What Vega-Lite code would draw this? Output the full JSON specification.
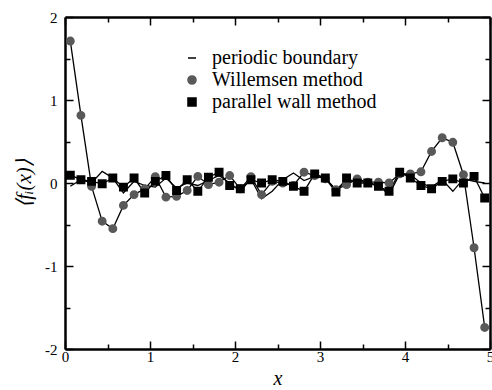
{
  "$schema": "https://vega.github.io/schema/vega-lite/v6.json",
  "width": 425,
  "height": 332,
  "autosize": "none",
  "padding": {"left": 65, "top": 17, "right": 2, "bottom": 41},
  "background": "white",
  "config": {
    "view": {"stroke": null},
    "axis": {
      "grid": false,
      "domainColor": "black",
      "domainWidth": 2.5,
      "tickColor": "black",
      "tickWidth": 1.5,
      "labelFont": "Liberation Serif",
      "labelFontSize": 15,
      "labelColor": "black",
      "titleFont": "Liberation Serif",
      "titleFontWeight": "normal",
      "titleColor": "black"
    }
  },
  "datasets": {
    "pts": [
      {"x": 0.0625, "y": 1.71, "series": "Willemsen method"},
      {"x": 0.1875, "y": 0.815, "series": "Willemsen method"},
      {"x": 0.3125, "y": -0.04, "series": "Willemsen method"},
      {"x": 0.4375, "y": -0.46, "series": "Willemsen method"},
      {"x": 0.5625, "y": -0.55, "series": "Willemsen method"},
      {"x": 0.6875, "y": -0.27, "series": "Willemsen method"},
      {"x": 0.8125, "y": -0.14, "series": "Willemsen method"},
      {"x": 0.9375, "y": -0.07, "series": "Willemsen method"},
      {"x": 1.0625, "y": 0.075, "series": "Willemsen method"},
      {"x": 1.1875, "y": -0.17, "series": "Willemsen method"},
      {"x": 1.3125, "y": -0.16, "series": "Willemsen method"},
      {"x": 1.4375, "y": -0.09, "series": "Willemsen method"},
      {"x": 1.5625, "y": 0.08, "series": "Willemsen method"},
      {"x": 1.6875, "y": -0.02, "series": "Willemsen method"},
      {"x": 1.8125, "y": 0.01, "series": "Willemsen method"},
      {"x": 1.9375, "y": 0.09, "series": "Willemsen method"},
      {"x": 2.0625, "y": -0.07, "series": "Willemsen method"},
      {"x": 2.1875, "y": 0.075, "series": "Willemsen method"},
      {"x": 2.3125, "y": -0.14, "series": "Willemsen method"},
      {"x": 2.4375, "y": 0.02, "series": "Willemsen method"},
      {"x": 2.5625, "y": 0.0, "series": "Willemsen method"},
      {"x": 2.6875, "y": -0.03, "series": "Willemsen method"},
      {"x": 2.8125, "y": 0.13, "series": "Willemsen method"},
      {"x": 2.9375, "y": 0.09, "series": "Willemsen method"},
      {"x": 3.0625, "y": 0.05, "series": "Willemsen method"},
      {"x": 3.1875, "y": -0.08, "series": "Willemsen method"},
      {"x": 3.3125, "y": -0.02, "series": "Willemsen method"},
      {"x": 3.4375, "y": 0.05, "series": "Willemsen method"},
      {"x": 3.5625, "y": 0.01, "series": "Willemsen method"},
      {"x": 3.6875, "y": 0.01, "series": "Willemsen method"},
      {"x": 3.8125, "y": 0.0, "series": "Willemsen method"},
      {"x": 3.9375, "y": 0.11, "series": "Willemsen method"},
      {"x": 4.0625, "y": 0.11, "series": "Willemsen method"},
      {"x": 4.1875, "y": 0.135, "series": "Willemsen method"},
      {"x": 4.3125, "y": 0.38, "series": "Willemsen method"},
      {"x": 4.4375, "y": 0.545, "series": "Willemsen method"},
      {"x": 4.5625, "y": 0.49, "series": "Willemsen method"},
      {"x": 4.6875, "y": 0.1, "series": "Willemsen method"},
      {"x": 4.8125, "y": -0.78, "series": "Willemsen method"},
      {"x": 4.9375, "y": -1.74, "series": "Willemsen method"},

      {"x": 0.0625, "y": 0.094, "series": "parallel wall method"},
      {"x": 0.1875, "y": 0.04, "series": "parallel wall method"},
      {"x": 0.3125, "y": 0.02, "series": "parallel wall method"},
      {"x": 0.4375, "y": -0.01, "series": "parallel wall method"},
      {"x": 0.5625, "y": 0.06, "series": "parallel wall method"},
      {"x": 0.6875, "y": -0.05, "series": "parallel wall method"},
      {"x": 0.8125, "y": 0.06, "series": "parallel wall method"},
      {"x": 0.9375, "y": -0.12, "series": "parallel wall method"},
      {"x": 1.0625, "y": 0.02, "series": "parallel wall method"},
      {"x": 1.1875, "y": 0.09, "series": "parallel wall method"},
      {"x": 1.3125, "y": -0.09, "series": "parallel wall method"},
      {"x": 1.4375, "y": 0.04, "series": "parallel wall method"},
      {"x": 1.5625, "y": -0.1, "series": "parallel wall method"},
      {"x": 1.6875, "y": 0.07, "series": "parallel wall method"},
      {"x": 1.8125, "y": 0.13, "series": "parallel wall method"},
      {"x": 1.9375, "y": -0.03, "series": "parallel wall method"},
      {"x": 2.0625, "y": -0.07, "series": "parallel wall method"},
      {"x": 2.1875, "y": 0.04, "series": "parallel wall method"},
      {"x": 2.3125, "y": 0.0, "series": "parallel wall method"},
      {"x": 2.4375, "y": 0.04, "series": "parallel wall method"},
      {"x": 2.5625, "y": 0.02, "series": "parallel wall method"},
      {"x": 2.6875, "y": -0.04, "series": "parallel wall method"},
      {"x": 2.8125, "y": -0.1, "series": "parallel wall method"},
      {"x": 2.9375, "y": 0.11, "series": "parallel wall method"},
      {"x": 3.0625, "y": 0.06, "series": "parallel wall method"},
      {"x": 3.1875, "y": -0.11, "series": "parallel wall method"},
      {"x": 3.3125, "y": 0.06, "series": "parallel wall method"},
      {"x": 3.4375, "y": 0.0, "series": "parallel wall method"},
      {"x": 3.5625, "y": 0.0, "series": "parallel wall method"},
      {"x": 3.6875, "y": -0.04, "series": "parallel wall method"},
      {"x": 3.8125, "y": -0.1, "series": "parallel wall method"},
      {"x": 3.9375, "y": 0.13, "series": "parallel wall method"},
      {"x": 4.0625, "y": 0.06, "series": "parallel wall method"},
      {"x": 4.1875, "y": -0.03, "series": "parallel wall method"},
      {"x": 4.3125, "y": -0.07, "series": "parallel wall method"},
      {"x": 4.4375, "y": 0.02, "series": "parallel wall method"},
      {"x": 4.5625, "y": 0.05, "series": "parallel wall method"},
      {"x": 4.6875, "y": 0.0, "series": "parallel wall method"},
      {"x": 4.8125, "y": 0.08, "series": "parallel wall method"},
      {"x": 4.9375, "y": -0.18, "series": "parallel wall method"},

      {"x": 0.0625, "y": -0.04, "series": "periodic boundary"},
      {"x": 0.1875, "y": 0.04, "series": "periodic boundary"},
      {"x": 0.3125, "y": 0.0, "series": "periodic boundary"},
      {"x": 0.4375, "y": 0.14, "series": "periodic boundary"},
      {"x": 0.5625, "y": 0.06, "series": "periodic boundary"},
      {"x": 0.6875, "y": -0.12, "series": "periodic boundary"},
      {"x": 0.8125, "y": 0.02, "series": "periodic boundary"},
      {"x": 0.9375, "y": -0.03, "series": "periodic boundary"},
      {"x": 1.0625, "y": -0.05, "series": "periodic boundary"},
      {"x": 1.1875, "y": 0.06, "series": "periodic boundary"},
      {"x": 1.3125, "y": -0.06, "series": "periodic boundary"},
      {"x": 1.4375, "y": 0.0, "series": "periodic boundary"},
      {"x": 1.5625, "y": -0.03, "series": "periodic boundary"},
      {"x": 1.6875, "y": 0.03, "series": "periodic boundary"},
      {"x": 1.8125, "y": 0.09, "series": "periodic boundary"},
      {"x": 1.9375, "y": 0.0, "series": "periodic boundary"},
      {"x": 2.0625, "y": -0.1, "series": "periodic boundary"},
      {"x": 2.1875, "y": 0.05, "series": "periodic boundary"},
      {"x": 2.3125, "y": -0.19, "series": "periodic boundary"},
      {"x": 2.4375, "y": -0.1, "series": "periodic boundary"},
      {"x": 2.5625, "y": 0.04, "series": "periodic boundary"},
      {"x": 2.6875, "y": 0.12, "series": "periodic boundary"},
      {"x": 2.8125, "y": 0.03, "series": "periodic boundary"},
      {"x": 2.9375, "y": 0.08, "series": "periodic boundary"},
      {"x": 3.0625, "y": 0.06, "series": "periodic boundary"},
      {"x": 3.1875, "y": -0.08, "series": "periodic boundary"},
      {"x": 3.3125, "y": 0.03, "series": "periodic boundary"},
      {"x": 3.4375, "y": 0.02, "series": "periodic boundary"},
      {"x": 3.5625, "y": 0.01, "series": "periodic boundary"},
      {"x": 3.6875, "y": -0.03, "series": "periodic boundary"},
      {"x": 3.8125, "y": -0.14, "series": "periodic boundary"},
      {"x": 3.9375, "y": 0.11, "series": "periodic boundary"},
      {"x": 4.0625, "y": 0.1, "series": "periodic boundary"},
      {"x": 4.1875, "y": 0.0, "series": "periodic boundary"},
      {"x": 4.3125, "y": -0.05, "series": "periodic boundary"},
      {"x": 4.4375, "y": 0.04, "series": "periodic boundary"},
      {"x": 4.5625, "y": -0.1, "series": "periodic boundary"},
      {"x": 4.6875, "y": 0.05, "series": "periodic boundary"},
      {"x": 4.8125, "y": 0.02, "series": "periodic boundary"},
      {"x": 4.9375, "y": 0.0, "series": "periodic boundary"}
    ]
  },
  "data": {"name": "pts"},
  "layer": [
    {
      "mark": {"type": "line", "color": "black", "strokeWidth": 1.3, "clip": true},
      "encoding": {
        "x": {
          "field": "x", "type": "quantitative",
          "scale": {"domain": [0, 5], "nice": false, "zero": false},
          "axis": {
            "orient": "bottom",
            "values": [0, 0.5, 1, 1.5, 2, 2.5, 3, 3.5, 4, 4.5, 5],
            "labelExpr": "datum.value % 1 === 0 ? datum.value : ''",
            "tickSize": {"condition": {"test": "datum.value % 1 === 0", "value": -8}, "value": -5},
            "labelFont": "Liberation Serif",
            "labelFontSize": 15,
            "labelPadding": 8,
            "labelFlush": false,
            "labelOverlap": false,
            "title": "x",
            "titleFontSize": 20,
            "titleFontStyle": "italic",
            "titlePadding": 1
          }
        },
        "y": {
          "field": "y", "type": "quantitative",
          "scale": {"domain": [-2, 2], "nice": false, "zero": false},
          "axis": {
            "orient": "left",
            "values": [-2, -1.5, -1, -0.5, 0, 0.5, 1, 1.5, 2],
            "labelExpr": "datum.value % 1 === 0 ? datum.value : ''",
            "tickSize": {"condition": {"test": "datum.value % 1 === 0", "value": -8}, "value": -5},
            "labelFont": "Liberation Serif",
            "labelFontSize": 15,
            "labelPadding": 16,
            "labelFlush": false,
            "labelOverlap": false,
            "title": "⟨fᵢ(x)⟩",
            "titleFontSize": 21,
            "titleFontStyle": "italic",
            "titlePadding": 10
          }
        },
        "detail": {"field": "series"},
        "order": {"field": "x"}
      }
    },
    {
      "transform": [{"filter": "datum.series !== 'periodic boundary'"}],
      "mark": {"type": "point", "filled": true, "opacity": 1, "strokeWidth": 1.5},
      "encoding": {
        "x": {
          "field": "x", "type": "quantitative",
          "axis": {
            "orient": "top",
            "values": [0, 0.5, 1, 1.5, 2, 2.5, 3, 3.5, 4, 4.5, 5],
            "labels": false,
            "tickSize": {"condition": {"test": "datum.value % 1 === 0", "value": -8}, "value": -5},
            "title": null
          }
        },
        "y": {
          "field": "y", "type": "quantitative",
          "axis": {
            "orient": "right",
            "values": [-2, -1.5, -1, -0.5, 0, 0.5, 1, 1.5, 2],
            "labels": false,
            "tickSize": {"condition": {"test": "datum.value % 1 === 0", "value": -8}, "value": -5},
            "title": null
          }
        },
        "shape": {
          "field": "series", "type": "nominal",
          "scale": {"domain": ["periodic boundary", "Willemsen method", "parallel wall method"], "range": ["stroke", "circle", "square"]},
          "legend": {
            "title": null,
            "orient": "none",
            "legendX": 117,
            "legendY": 31,
            "padding": 0,
            "rowPadding": 2,
            "labelFont": "Liberation Serif",
            "labelFontSize": 20,
            "labelColor": "black",
            "labelLimit": 400,
            "labelOffset": 10,
            "symbolSize": 65,
            "symbolStrokeWidth": 1.5,
            "symbolOpacity": 1
          }
        },
        "color": {
          "field": "series", "type": "nominal",
          "scale": {"domain": ["periodic boundary", "Willemsen method", "parallel wall method"], "range": ["black", "#595959", "black"]}
        },
        "stroke": {
          "field": "series", "type": "nominal",
          "scale": {"domain": ["periodic boundary", "Willemsen method", "parallel wall method"], "range": ["black", "#595959", "black"]}
        },
        "size": {"value": 55}
      }
    }
  ],
  "resolve": {"axis": {"x": "independent", "y": "independent"}}
}
